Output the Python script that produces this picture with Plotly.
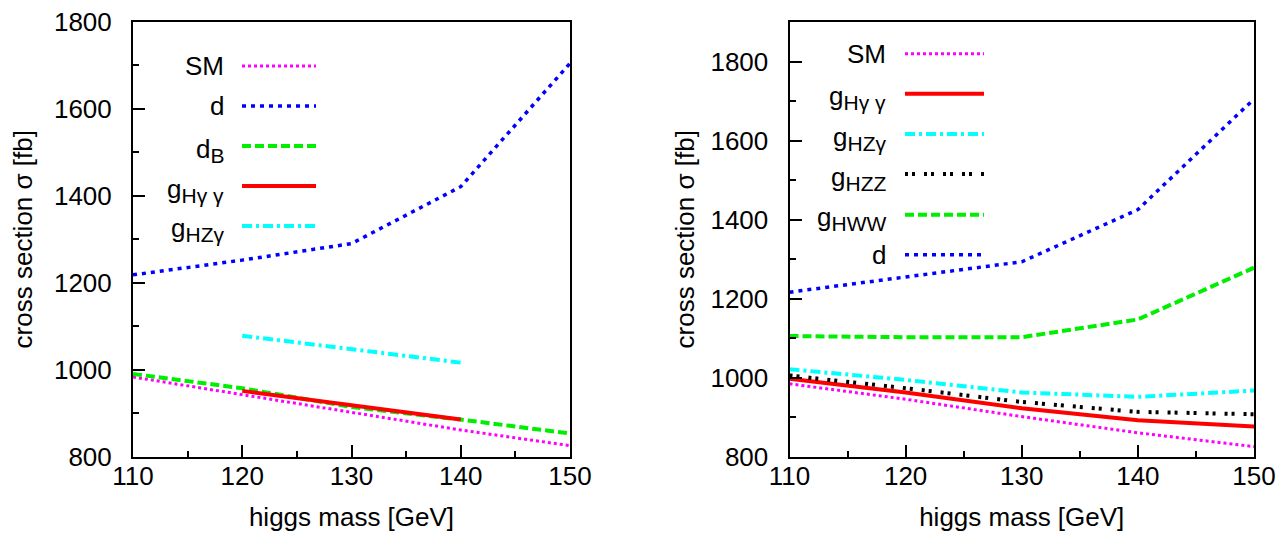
import plotly.graph_objects as go
from plotly.subplots import make_subplots

W, H = 1287, 538

# ---------------- data ----------------
mass = [110, 120, 130, 140, 150]
mass_sub = [120, 130, 140]

# left panel
sm_left = [983, 942, 901, 861, 825]
d_left = [1218, 1252, 1290, 1421, 1705]
dB_left = [990, 957, 914, 885, 853]
gHgg_left = [951, 918, 885]
gHZg_left = [1078, 1047, 1016]

# right panel
sm_right = [984, 945, 901, 860, 825]
gHgg_right = [997, 962, 922, 892, 876]
gHZg_right = [1021, 994, 962, 951, 967]
gHZZ_right = [1005, 973, 938, 913, 907]
gHWW_right = [1105, 1102, 1102, 1147, 1278]
d_right = [1216, 1255, 1293, 1425, 1705]

x_ticks = [110, 120, 130, 140, 150]
y_ticks = [800, 1000, 1200, 1400, 1600, 1800]

# ---------------- styles ----------------
STY = {
    "SM":   dict(color="#ff00ff", width=3, dash="3px,3px"),
    "d":    dict(color="#0000ff", width=3.5, dash="4px,5px"),
    "dB":   dict(color="#00ee00", width=4, dash="9px,4px"),
    "gHgg": dict(color="#ff0000", width=4, dash="solid"),
    "gHZg": dict(color="#00ffff", width=4, dash="10px,4px,3px,4px"),
    "gHZZ": dict(color="#000000", width=4, dash="3px,4px,3px,9px"),
    "gHWW": dict(color="#00ee00", width=4, dash="9px,4px"),
}

SUBFS = 21
def sub(t):
    return "<sub><span style='font-size:%dpx'>%s</span></sub>" % (SUBFS, t)

LABEL = {
    "SM": "SM",
    "d": "d",
    "dB": "d" + sub("B"),
    "gHgg": "g" + sub("Hγ γ"),
    "gHZg": "g" + sub("HZγ"),
    "gHZZ": "g" + sub("HZZ"),
    "gHWW": "g" + sub("HWW"),
}

FONT = "Liberation Sans, Arial, Helvetica, sans-serif"
FS = 26

fig = make_subplots(rows=1, cols=2)

left_series = [("SM", mass, sm_left), ("d", mass, d_left), ("dB", mass, dB_left),
               ("gHgg", mass_sub, gHgg_left), ("gHZg", mass_sub, gHZg_left)]
right_series = [("SM", mass, sm_right), ("gHgg", mass, gHgg_right),
                ("gHZg", mass, gHZg_right), ("gHZZ", mass, gHZZ_right),
                ("gHWW", mass, gHWW_right), ("d", mass, d_right)]

for key, xs, ys in left_series:
    fig.add_trace(go.Scatter(x=xs, y=ys, mode="lines", line=STY[key],
                             showlegend=False, name=key), row=1, col=1)
for key, xs, ys in right_series:
    fig.add_trace(go.Scatter(x=xs, y=ys, mode="lines", line=STY[key],
                             showlegend=False, name=key), row=1, col=2)

def px2x(p):
    return p / W

def px2y(p):
    return 1 - p / H

# domains (pixel frame positions)
L_X = (125, 562)
R_X = (781.5, 1246)
Y_PX = (14, 448.5)

axis_common = dict(
    showline=True, linecolor="black", linewidth=2, mirror=True,
    ticks="inside", ticklen=12, tickwidth=1.5, tickcolor="black",
    showgrid=False, zeroline=False, ticklabeloverflow="allow",
    tickfont=dict(family=FONT, size=FS, color="black"),
    title_font=dict(family=FONT, size=FS, color="black"),
)

fig.update_xaxes(**axis_common, range=[110, 150], tickvals=x_ticks,
                 ticklabelstandoff=-5,
                 minor=dict(ticks="inside", ticklen=6, tickwidth=1.5,
                            tickcolor="black", dtick=5, showgrid=False),
                 title_text="higgs mass [GeV]", title_standoff=18)
fig.update_yaxes(**axis_common, tickvals=y_ticks,
                 ticklabelstandoff=14,
                 minor=dict(ticks="inside", ticklen=6, tickwidth=1.5,
                            tickcolor="black", dtick=100, showgrid=False),
                 title_text="cross section σ [fb]")

fig.update_xaxes(domain=[px2x(L_X[0]), px2x(L_X[1])], row=1, col=1)
fig.update_xaxes(domain=[px2x(R_X[0]), px2x(R_X[1])], row=1, col=2)
fig.update_yaxes(domain=[px2y(Y_PX[1]), px2y(Y_PX[0])])
fig.update_yaxes(range=[800, 1800], title_standoff=19, row=1, col=1)
fig.update_yaxes(range=[800, 1900], title_standoff=8, row=1, col=2)

# ---------------- manual legends (text left, sample right) ----------------
annotations = []
shapes = []

def add_legend(keys, text_right, x0, x1, rows_y):
    for key, ry in zip(keys, rows_y):
        annotations.append(dict(
            x=px2x(text_right), y=px2y(ry), xref="paper", yref="paper",
            xanchor="right", yanchor="middle", showarrow=False,
            text=LABEL[key], font=dict(family=FONT, size=FS, color="black"),
            yshift=(-4 if "<sub>" in LABEL[key] else 0),
        ))
        st = STY[key]
        shapes.append(dict(
            type="line", xref="paper", yref="paper",
            x0=px2x(x0), x1=px2x(x1), y0=px2y(ry), y1=px2y(ry),
            line=dict(color=st["color"], width=st["width"], dash=st["dash"]),
        ))

add_legend(["SM", "d", "dB", "gHgg", "gHZg"], 218, 234, 308,
           [58, 98, 138, 178, 218])
add_legend(["SM", "gHgg", "gHZg", "gHZZ", "gHWW", "d"], 880, 897, 976,
           [45.7, 85.7, 126, 166, 206.7, 246.7])

fig.update_layout(
    width=W, height=H,
    margin=dict(l=0, r=0, t=0, b=0, autoexpand=False),
    paper_bgcolor="white", plot_bgcolor="white",
    showlegend=False,
    annotations=annotations, shapes=shapes,
    font=dict(family=FONT, size=FS, color="black"),
)

fig.write_html("out.html")
